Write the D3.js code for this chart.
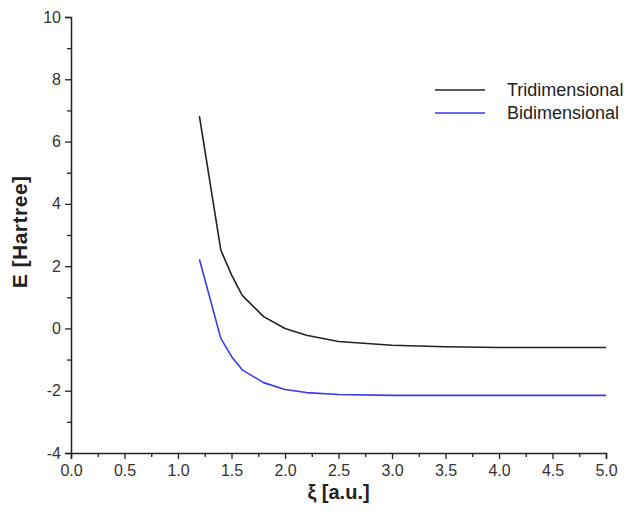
<!DOCTYPE html>
<html>
<head>
<meta charset="utf-8">
<script src="https://cdn.jsdelivr.net/npm/d3@7"></script>
<style>
  body { margin: 0; background: #fff; }
  svg { display: block; font-family: Arial, "Liberation Sans", sans-serif; }
</style>
</head>
<body>
<div id="chart"></div>
<script>
// data
const xi = [1.2, 1.4, 1.5, 1.6, 1.8, 2.0, 2.2, 2.5, 3.0, 3.5, 4.0, 4.5, 5.0];
const triValues = [6.82, 2.52, 1.72, 1.06, 0.38, 0.0, -0.22, -0.42, -0.54, -0.59, -0.61, -0.61, -0.61];
const biValues = [2.22, -0.32, -0.9, -1.33, -1.74, -1.96, -2.06, -2.12, -2.15, -2.15, -2.15, -2.15, -2.15];
const seriesNames = ["Tridimensional", "Bidimensional"];
const seriesColors = ["#222222", "#3a3aee"];
const xTicks = [0, 0.5, 1, 1.5, 2, 2.5, 3, 3.5, 4, 4.5, 5];
const yTicks = [-4, -2, 0, 2, 4, 6, 8, 10];

const width = 639, height = 515;
const margin = { top: 17, right: 33, bottom: 62, left: 71 };
const innerWidth = width - margin.left - margin.right;
const innerHeight = height - margin.top - margin.bottom;

const svg = d3.select("#chart").append("svg")
    .attr("width", width)
    .attr("height", height);

const g = svg.append("g")
    .attr("transform", `translate(${margin.left},${margin.top})`);

const x = d3.scaleLinear().domain([0, 5]).range([0, innerWidth]);
const y = d3.scaleLinear().domain([-4, 10]).range([innerHeight, 0]);

// minor ticks first, then the major axis on top
g.append("g")
    .attr("transform", `translate(0,${innerHeight})`)
    .call(d3.axisBottom(x).tickValues(d3.range(0.25, 5, 0.5)).tickSize(4).tickFormat(""))
    .call(a => a.select(".domain").remove())
    .call(a => a.selectAll("text").remove())
    .selectAll("line").attr("stroke", "#222").attr("stroke-width", 1.3);

g.append("g")
    .call(d3.axisLeft(y).tickValues(d3.range(-3, 10, 2)).tickSize(4).tickFormat(""))
    .call(a => a.select(".domain").remove())
    .call(a => a.selectAll("text").remove())
    .selectAll("line").attr("stroke", "#222").attr("stroke-width", 1.3);

const xAxis = g.append("g")
    .attr("transform", `translate(0,${innerHeight})`)
    .call(d3.axisBottom(x).tickValues(xTicks).tickSize(6).tickPadding(6).tickSizeOuter(6).tickFormat(d => d.toFixed(1)));

const yAxis = g.append("g")
    .call(d3.axisLeft(y).tickValues(yTicks).tickSize(6).tickPadding(4).tickSizeOuter(6).tickFormat(d => String(d)));

[xAxis, yAxis].forEach(a => {
    a.select(".domain").attr("stroke", "#222").attr("stroke-width", 1.5);
    a.selectAll(".tick line").attr("stroke", "#222").attr("stroke-width", 1.3);
    a.selectAll("text").attr("fill", "#333").style("font-size", "16px");
});

// axis titles
g.append("text")
    .attr("x", x(2.5))
    .attr("y", innerHeight + 46)
    .attr("text-anchor", "middle")
    .attr("fill", "#222")
    .style("font-size", "20px")
    .style("font-weight", "bold")
    .text("ξ [a.u.]");

g.append("text")
    .attr("transform", "rotate(-90)")
    .attr("x", -(y(3.1)))
    .attr("y", -44)
    .attr("text-anchor", "middle")
    .attr("fill", "#222")
    .style("font-size", "21px")
    .style("font-weight", "bold")
    .style("letter-spacing", "0.5px")
    .text("E [Hartree]");

const seriesData = [triValues, biValues].map((vals, i) => ({
    name: seriesNames[i],
    color: seriesColors[i],
    values: xi.map((v, j) => ({ x: v, y: vals[j] }))
}));

const line = d3.line()
    .x(d => x(d.x))
    .y(d => y(d.y));

g.selectAll(".line-series")
    .data(seriesData)
    .enter()
    .append("path")
    .attr("class", "line-series")
    .attr("fill", "none")
    .attr("stroke", d => d.color)
    .attr("stroke-width", 1.6)
    .attr("stroke-linejoin", "round")
    .attr("d", d => line(d.values));

// legend
const legend = svg.append("g")
    .attr("transform", "translate(435,90)");

const item = legend.selectAll("g")
    .data(seriesData)
    .enter()
    .append("g")
    .attr("transform", (d, i) => `translate(0,${i * 23})`);

item.append("line")
    .attr("x1", 0).attr("x2", 50)
    .attr("stroke", d => d.color)
    .attr("stroke-width", 1.6);

item.append("text")
    .attr("x", 72)
    .attr("y", 6)
    .attr("fill", "#222")
    .style("font-size", "18px")
    .text(d => d.name);
</script>
</body>
</html>
